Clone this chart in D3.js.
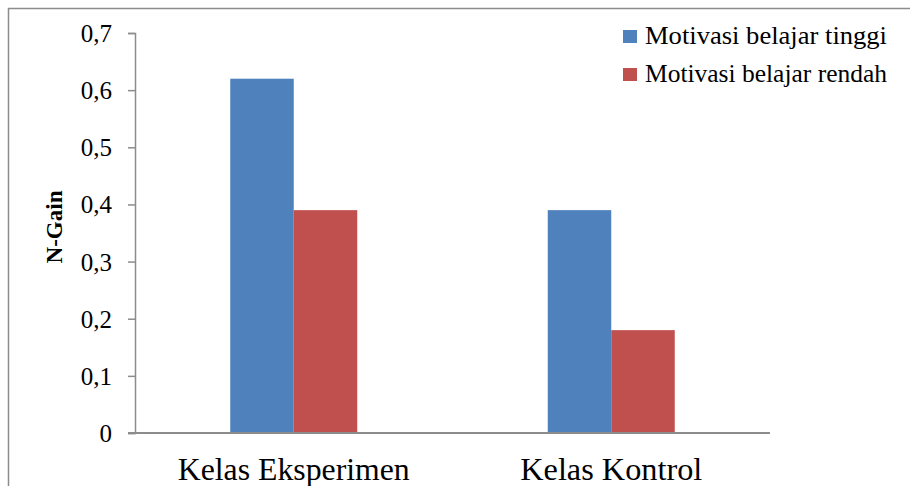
<!DOCTYPE html>
<html>
<head>
<meta charset="utf-8">
<script src="https://cdn.jsdelivr.net/npm/d3@7"></script>
<style>
  html, body { margin: 0; padding: 0; background: #fff; }
  svg { display: block; }
</style>
</head>
<body>
<script>
const categories = ["Kelas Eksperimen", "Kelas Kontrol"];
const seriesNames = ["Motivasi belajar tinggi", "Motivasi belajar rendah"];
const tinggi = [0.62, 0.39];
const rendah = [0.39, 0.18];
const yTicks = [0, 0.1, 0.2, 0.3, 0.4, 0.5, 0.6, 0.7];
const yTickLabels = ["0", "0,1", "0,2", "0,3", "0,4", "0,5", "0,6", "0,7"];
const yTitle = "N-Gain";
const colors = ["#4F81BD", "#C0504D"];

(function () {
const W = 910, H = 486;
const FONT = '"Liberation Serif", "Times New Roman", Tinos, serif';
const svg = d3.select("body").append("svg").attr("width", W).attr("height", H);

// outer border
svg.append("rect").attr("x", 8.5).attr("y", 8.5).attr("width", W + 20).attr("height", H + 20)
  .attr("fill", "none").attr("stroke", "#8c8c8c").attr("stroke-width", 1.5);

const mLeft = 135, mRight = 770, mTop = 33, mBottom = 433;

const y = d3.scaleLinear().domain([0, 0.7]).range([mBottom, mTop]);
const x0 = d3.scaleBand().domain(categories).range([mLeft, mRight]).paddingInner(0.6).paddingOuter(0.3);
const x1 = d3.scaleBand().domain(seriesNames).range([0, x0.bandwidth()]).padding(0);

const data = categories.map((c, i) => ({ cat: c, vals: [tinggi[i], rendah[i]] }));

const groups = svg.append("g").selectAll("g").data(data).join("g")
  .attr("transform", d => `translate(${x0(d.cat)},0)`);
groups.selectAll("rect").data(d => d.vals.map((v, j) => ({ v, s: seriesNames[j], j })))
  .join("rect")
  .attr("x", d => x1(d.s))
  .attr("y", d => y(d.v))
  .attr("width", x1.bandwidth())
  .attr("height", d => y(0) - y(d.v))
  .attr("fill", d => colors[d.j]);

// y axis
const yAxis = d3.axisLeft(y).tickValues(yTicks)
  .tickFormat((d, i) => yTickLabels[i]).tickSize(7).tickPadding(16);
const gy = svg.append("g").attr("transform", `translate(${mLeft},0)`).call(yAxis);
gy.select(".domain").attr("stroke", "#8c8c8c").attr("stroke-width", 1.5);
gy.selectAll(".tick line").attr("stroke", "#8c8c8c").attr("stroke-width", 1.5);
gy.selectAll(".tick text").style("font-family", FONT).style("font-size", "25px")
  .attr("fill", "#000").attr("dy", "0.34em");

// x axis
const xAxis = d3.axisBottom(x0).tickSize(0).tickPadding(25);
const gx = svg.append("g").attr("transform", `translate(0,${mBottom})`).call(xAxis);
gx.select(".domain").attr("stroke", "#8c8c8c").attr("stroke-width", 2)
  .attr("d", `M${mLeft - 7},0H${mRight}`);
gx.selectAll(".tick text").style("font-family", FONT).style("font-size", "31px")
  .attr("fill", "#000").attr("dy", "0.71em")
  .attr("textLength", (d, i) => [232, 182][i]).attr("lengthAdjust", "spacingAndGlyphs");

// y title
svg.append("text")
  .attr("transform", `translate(62,227) rotate(-90)`)
  .attr("text-anchor", "middle")
  .style("font-family", FONT).style("font-weight", "bold").style("font-size", "23px")
  .attr("textLength", 73).attr("lengthAdjust", "spacingAndGlyphs")
  .text(yTitle);

// legend
const lg = svg.append("g").selectAll("g").data(seriesNames).join("g")
  .attr("transform", (d, i) => `translate(623,${30 + i * 38})`);
lg.append("rect").attr("width", 14).attr("height", 13).attr("fill", (d, i) => colors[i]);
lg.append("text").attr("x", 22).attr("y", 14)
  .style("font-family", FONT).style("font-size", "25px")
  .attr("textLength", (d, i) => [242, 242][i]).attr("lengthAdjust", "spacingAndGlyphs")
  .text(d => d);
})();
</script>
</body>
</html>
